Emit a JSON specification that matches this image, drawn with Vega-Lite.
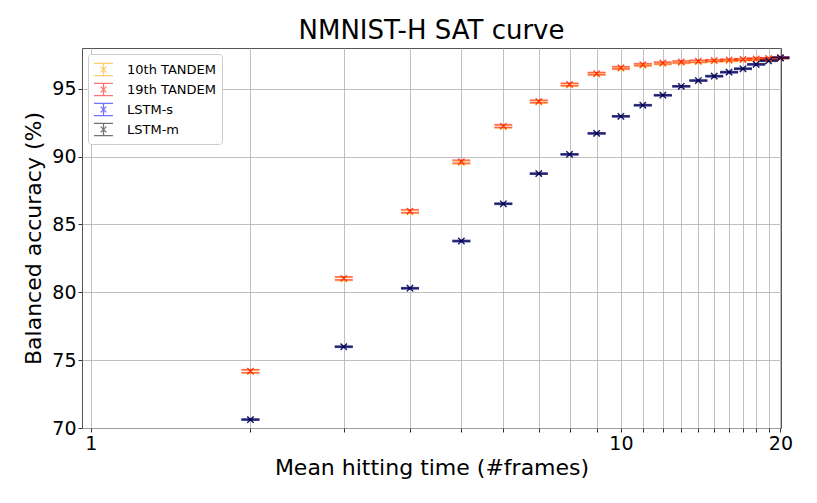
{
  "$schema": "https://vega.github.io/schema/vega-lite/v6.json",
  "autosize": "none",
  "width": 699,
  "height": 380,
  "padding": {"left": 82, "top": 48, "right": 36, "bottom": 75},
  "background": "white",
  "title": {"text": "NMNIST-H SAT curve", "font": "DejaVu Sans", "fontSize": 26, "fontWeight": "normal", "color": "black", "offset": 4},
  "config": {
    "font": "DejaVu Sans",
    "view": {"stroke": "#555", "strokeWidth": 1},
    "axis": {"labelFont": "DejaVu Sans", "titleFont": "DejaVu Sans", "labelColor": "black", "titleColor": "black", "titleFontWeight": "normal", "gridColor": "#b0b0b0", "gridWidth": 0.8, "gridOpacity": 1, "domain": false, "tickColor": "#333", "tickSize": 4}
  },
  "data": {"values": [
    {"series": "10th TANDEM", "x": 2, "y": 74.15, "lo": 74.04, "hi": 74.26},
    {"series": "10th TANDEM", "x": 3, "y": 80.98, "lo": 80.87, "hi": 81.09},
    {"series": "10th TANDEM", "x": 4, "y": 85.92, "lo": 85.81, "hi": 86.03},
    {"series": "10th TANDEM", "x": 5, "y": 89.55, "lo": 89.44, "hi": 89.66},
    {"series": "10th TANDEM", "x": 6, "y": 92.2, "lo": 92.1, "hi": 92.3},
    {"series": "10th TANDEM", "x": 7, "y": 94.02, "lo": 93.93, "hi": 94.11},
    {"series": "10th TANDEM", "x": 8, "y": 95.27, "lo": 95.18, "hi": 95.36},
    {"series": "10th TANDEM", "x": 9, "y": 96.07, "lo": 95.99, "hi": 96.15},
    {"series": "10th TANDEM", "x": 10, "y": 96.5, "lo": 96.42, "hi": 96.58},
    {"series": "10th TANDEM", "x": 11, "y": 96.72, "lo": 96.65, "hi": 96.79},
    {"series": "10th TANDEM", "x": 12, "y": 96.85, "lo": 96.78, "hi": 96.92},
    {"series": "10th TANDEM", "x": 13, "y": 96.93, "lo": 96.86, "hi": 97.0},
    {"series": "10th TANDEM", "x": 14, "y": 96.98, "lo": 96.91, "hi": 97.05},
    {"series": "10th TANDEM", "x": 15, "y": 97.03, "lo": 96.97, "hi": 97.09},
    {"series": "10th TANDEM", "x": 16, "y": 97.07, "lo": 97.01, "hi": 97.13},
    {"series": "10th TANDEM", "x": 17, "y": 97.12, "lo": 97.06, "hi": 97.18},
    {"series": "10th TANDEM", "x": 18, "y": 97.16, "lo": 97.1, "hi": 97.22},
    {"series": "10th TANDEM", "x": 19, "y": 97.2, "lo": 97.14, "hi": 97.26},
    {"series": "10th TANDEM", "x": 20, "y": 97.26, "lo": 97.2, "hi": 97.32},
    {"series": "19th TANDEM", "x": 2, "y": 74.19, "lo": 74.08, "hi": 74.3},
    {"series": "19th TANDEM", "x": 3, "y": 81.03, "lo": 80.92, "hi": 81.14},
    {"series": "19th TANDEM", "x": 4, "y": 85.98, "lo": 85.87, "hi": 86.09},
    {"series": "19th TANDEM", "x": 5, "y": 89.63, "lo": 89.52, "hi": 89.74},
    {"series": "19th TANDEM", "x": 6, "y": 92.25, "lo": 92.15, "hi": 92.35},
    {"series": "19th TANDEM", "x": 7, "y": 94.07, "lo": 93.98, "hi": 94.16},
    {"series": "19th TANDEM", "x": 8, "y": 95.32, "lo": 95.23, "hi": 95.41},
    {"series": "19th TANDEM", "x": 9, "y": 96.12, "lo": 96.04, "hi": 96.2},
    {"series": "19th TANDEM", "x": 10, "y": 96.55, "lo": 96.47, "hi": 96.63},
    {"series": "19th TANDEM", "x": 11, "y": 96.78, "lo": 96.71, "hi": 96.85},
    {"series": "19th TANDEM", "x": 12, "y": 96.9, "lo": 96.83, "hi": 96.97},
    {"series": "19th TANDEM", "x": 13, "y": 96.98, "lo": 96.91, "hi": 97.05},
    {"series": "19th TANDEM", "x": 14, "y": 97.03, "lo": 96.96, "hi": 97.1},
    {"series": "19th TANDEM", "x": 15, "y": 97.08, "lo": 97.02, "hi": 97.14},
    {"series": "19th TANDEM", "x": 16, "y": 97.12, "lo": 97.06, "hi": 97.18},
    {"series": "19th TANDEM", "x": 17, "y": 97.16, "lo": 97.1, "hi": 97.22},
    {"series": "19th TANDEM", "x": 18, "y": 97.2, "lo": 97.14, "hi": 97.26},
    {"series": "19th TANDEM", "x": 19, "y": 97.23, "lo": 97.17, "hi": 97.29},
    {"series": "19th TANDEM", "x": 20, "y": 97.28, "lo": 97.22, "hi": 97.34},
    {"series": "LSTM-s", "x": 2, "y": 70.62, "lo": 70.58, "hi": 70.66},
    {"series": "LSTM-s", "x": 3, "y": 75.98, "lo": 75.94, "hi": 76.02},
    {"series": "LSTM-s", "x": 4, "y": 80.3, "lo": 80.26, "hi": 80.34},
    {"series": "LSTM-s", "x": 5, "y": 83.77, "lo": 83.73, "hi": 83.81},
    {"series": "LSTM-s", "x": 6, "y": 86.52, "lo": 86.48, "hi": 86.56},
    {"series": "LSTM-s", "x": 7, "y": 88.74, "lo": 88.7, "hi": 88.78},
    {"series": "LSTM-s", "x": 8, "y": 90.16, "lo": 90.12, "hi": 90.2},
    {"series": "LSTM-s", "x": 9, "y": 91.71, "lo": 91.67, "hi": 91.75},
    {"series": "LSTM-s", "x": 10, "y": 92.97, "lo": 92.93, "hi": 93.01},
    {"series": "LSTM-s", "x": 11, "y": 93.78, "lo": 93.74, "hi": 93.82},
    {"series": "LSTM-s", "x": 12, "y": 94.52, "lo": 94.48, "hi": 94.56},
    {"series": "LSTM-s", "x": 13, "y": 95.18, "lo": 95.14, "hi": 95.22},
    {"series": "LSTM-s", "x": 14, "y": 95.6, "lo": 95.56, "hi": 95.64},
    {"series": "LSTM-s", "x": 15, "y": 95.92, "lo": 95.88, "hi": 95.96},
    {"series": "LSTM-s", "x": 16, "y": 96.22, "lo": 96.18, "hi": 96.26},
    {"series": "LSTM-s", "x": 17, "y": 96.47, "lo": 96.43, "hi": 96.51},
    {"series": "LSTM-s", "x": 18, "y": 96.79, "lo": 96.75, "hi": 96.83},
    {"series": "LSTM-s", "x": 19, "y": 97.06, "lo": 97.02, "hi": 97.1},
    {"series": "LSTM-s", "x": 20, "y": 97.28, "lo": 97.24, "hi": 97.32},
    {"series": "LSTM-m", "x": 2, "y": 70.62, "lo": 70.58, "hi": 70.66},
    {"series": "LSTM-m", "x": 3, "y": 75.99, "lo": 75.95, "hi": 76.03},
    {"series": "LSTM-m", "x": 4, "y": 80.3, "lo": 80.26, "hi": 80.34},
    {"series": "LSTM-m", "x": 5, "y": 83.78, "lo": 83.74, "hi": 83.82},
    {"series": "LSTM-m", "x": 6, "y": 86.52, "lo": 86.48, "hi": 86.56},
    {"series": "LSTM-m", "x": 7, "y": 88.74, "lo": 88.7, "hi": 88.78},
    {"series": "LSTM-m", "x": 8, "y": 90.17, "lo": 90.13, "hi": 90.21},
    {"series": "LSTM-m", "x": 9, "y": 91.71, "lo": 91.67, "hi": 91.75},
    {"series": "LSTM-m", "x": 10, "y": 92.97, "lo": 92.93, "hi": 93.01},
    {"series": "LSTM-m", "x": 11, "y": 93.79, "lo": 93.75, "hi": 93.83},
    {"series": "LSTM-m", "x": 12, "y": 94.52, "lo": 94.48, "hi": 94.56},
    {"series": "LSTM-m", "x": 13, "y": 95.18, "lo": 95.14, "hi": 95.22},
    {"series": "LSTM-m", "x": 14, "y": 95.6, "lo": 95.56, "hi": 95.64},
    {"series": "LSTM-m", "x": 15, "y": 95.93, "lo": 95.89, "hi": 95.97},
    {"series": "LSTM-m", "x": 16, "y": 96.22, "lo": 96.18, "hi": 96.26},
    {"series": "LSTM-m", "x": 17, "y": 96.47, "lo": 96.43, "hi": 96.51},
    {"series": "LSTM-m", "x": 18, "y": 96.8, "lo": 96.76, "hi": 96.84},
    {"series": "LSTM-m", "x": 19, "y": 97.06, "lo": 97.02, "hi": 97.1},
    {"series": "LSTM-m", "x": 20, "y": 97.28, "lo": 97.24, "hi": 97.32}
  ]},
  "encoding": {
    "x": {"field": "x", "type": "quantitative",
      "scale": {"type": "log", "domain": [0.962, 20.05], "nice": false},
      "axis": {"values": [1,2,3,4,5,6,7,8,9,10,11,12,13,14,15,16,17,18,19,20], "labelExpr": "indexof([1,10,20], datum.value) >= 0 ? datum.label : ''", "title": "Mean hitting time (#frames)", "labelFontSize": 19, "titleFontSize": 22, "labelPadding": 2, "titlePadding": 4, "labelFlush": false}},
    "color": {"field": "series", "type": "nominal",
      "scale": {"domain": ["10th TANDEM", "19th TANDEM", "LSTM-s", "LSTM-m"], "range": ["#ffa500", "#ff0000", "#0000ff", "#000000"]},
      "legend": {"title": null, "orient": "none", "legendX": 6, "legendY": 6, "fillColor": "white", "strokeColor": "#cccccc", "cornerRadius": 3, "padding": 5, "labelFontSize": 13, "labelFont": "DejaVu Sans", "labelColor": "black", "symbolType": "M-1,-0.65H1M-1,0.65H1M0,-0.65V0.65M-0.3,-0.3L0.3,0.3M-0.3,0.3L0.3,-0.3", "symbolSize": 360, "symbolStrokeWidth": 1.3, "symbolOpacity": 0.55, "rowPadding": 0, "labelOffset": 13}}
  },
  "layer": [
    {"mark": {"type": "rule", "strokeWidth": 1.3, "opacity": 0.5},
     "encoding": {"y": {"field": "lo", "type": "quantitative", "scale": {"domain": [70, 98], "nice": false, "zero": false},
       "axis": {"values": [70,75,80,85,90,95], "title": "Balanced accuracy (%)", "labelFontSize": 19, "titleFontSize": 22, "titlePadding": 6, "labelPadding": 2}},
       "y2": {"field": "hi"}}},
    {"mark": {"type": "tick", "orient": "horizontal", "size": 18, "thickness": 1.5, "opacity": 0.55},
     "encoding": {"y": {"field": "lo", "type": "quantitative"}}},
    {"mark": {"type": "tick", "orient": "horizontal", "size": 18, "thickness": 1.5, "opacity": 0.55},
     "encoding": {"y": {"field": "hi", "type": "quantitative"}}},
    {"mark": {"type": "point", "shape": "M-1,-1L1,1M-1,1L1,-1", "filled": false, "size": 40, "strokeWidth": 1.3, "opacity": 0.65},
     "encoding": {"y": {"field": "y", "type": "quantitative"}}}
  ]
}
